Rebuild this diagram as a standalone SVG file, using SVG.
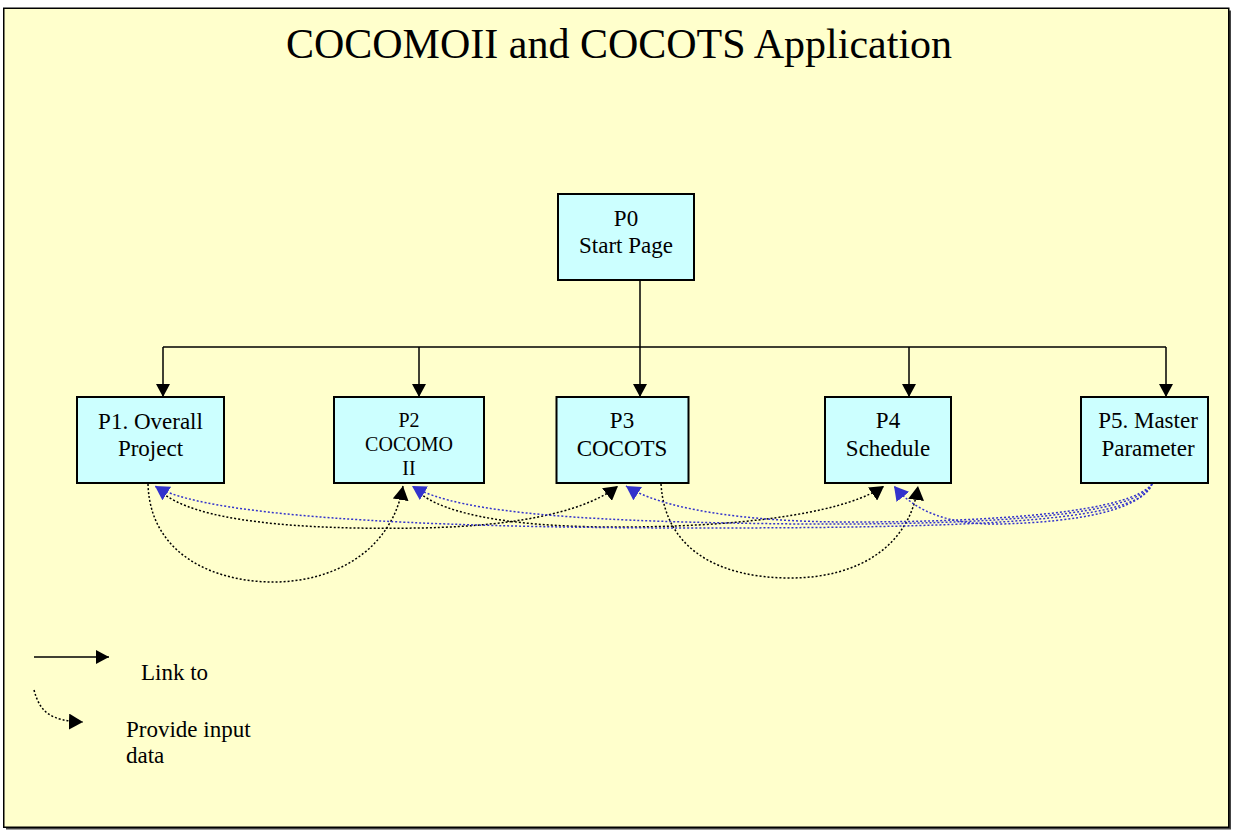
<svg xmlns="http://www.w3.org/2000/svg" width="1233" height="830" viewBox="0 0 1233 830">
<style>
.box{fill:#CCFFFF;stroke:#000;stroke-width:2}
.t{font-family:"Liberation Serif","Times New Roman",serif;font-size:23px;fill:#000;text-anchor:middle}
.t2{font-family:"Liberation Serif","Times New Roman",serif;font-size:20px;fill:#000;text-anchor:middle}
.lg{font-family:"Liberation Serif","Times New Roman",serif;font-size:23px;fill:#000}
.solid{fill:none;stroke:#000;stroke-width:1.5}
.dk{fill:none;stroke:#000;stroke-width:1.5;stroke-dasharray:2,2}
.db{fill:none;stroke:#3333CC;stroke-width:1.5;stroke-dasharray:2,2}
</style>
<defs>
<marker id="ah" markerUnits="userSpaceOnUse" markerWidth="14" markerHeight="14" refX="13" refY="7" orient="auto" viewBox="0 0 14 14">
<path d="M0,0 L13,7 L0,14 z" fill="#000"/>
</marker>
<marker id="ak" markerUnits="userSpaceOnUse" markerWidth="15" markerHeight="16" refX="14" refY="8" orient="auto" viewBox="0 0 15 16">
<path d="M0,0 L14,8 L0,16 z" fill="#000"/>
</marker>
<marker id="ab" markerUnits="userSpaceOnUse" markerWidth="15" markerHeight="16" refX="14" refY="8" orient="auto" viewBox="0 0 15 16">
<path d="M0,0 L14,8 L0,16 z" fill="#3333CC"/>
</marker>
</defs>
<rect x="6" y="10.5" width="1225" height="819" fill="#444"/>
<rect x="3.75" y="8.25" width="1225" height="819" fill="#FFFFCC" stroke="#000" stroke-width="1.5"/>
<text x="619" y="58" font-family="'Liberation Serif','Times New Roman',serif" font-size="42" text-anchor="middle" fill="#000">COCOMOII and COCOTS Application</text>

<g id="connectors">
<path class="solid" d="M640,280 L640,347"/>
<path class="solid" d="M163,347 L1166,347"/>
<path class="solid" d="M163,347 L163,397" marker-end="url(#ah)"/>
<path class="solid" d="M419,347 L419,397" marker-end="url(#ah)"/>
<path class="solid" d="M640,347 L640,397" marker-end="url(#ah)"/>
<path class="solid" d="M909,347 L909,397" marker-end="url(#ah)"/>
<path class="solid" d="M1166,347 L1166,397" marker-end="url(#ah)"/>

<path class="dk" d="M148,484 C150,555 215,582 273,582 C335,582 392,550 403,486" marker-end="url(#ak)"/>
<path class="dk" d="M160,491 C195,522 300,530 420,528 C530,526 590,508 618,486" marker-end="url(#ak)"/>
<path class="dk" d="M417,491 C445,516 520,528 630,527 C760,526 850,510 884,486" marker-end="url(#ak)"/>
<path class="dk" d="M661,484 C665,550 720,578 790,578 C860,578 910,545 918,486" marker-end="url(#ak)"/>

<path class="db" d="M1152,484 C1140,520 1000,528 700,528 C400,528 200,515 155,486" marker-end="url(#ab)"/>
<path class="db" d="M1152,484 C1135,515 1000,525 800,524 C600,522 460,515 412,486" marker-end="url(#ab)"/>
<path class="db" d="M1152,484 C1130,512 1000,522 850,522 C740,522 660,508 626,486" marker-end="url(#ab)"/>
<path class="db" d="M1152,484 C1140,510 1080,522 1000,524 C950,525 915,512 894,486" marker-end="url(#ab)"/>

<path class="solid" d="M34,657 L109,657" marker-end="url(#ah)"/>
<path class="dk" d="M34,690 C40,712 50,721 83,722" marker-end="url(#ak)"/>
</g>

<g id="P0">
<rect class="box" x="558" y="194" width="136" height="86"/>
<text class="t" x="626" y="226">P0</text>
<text class="t" x="626" y="253">Start Page</text>
</g>
<g id="P1">
<rect class="box" x="77" y="397" width="147" height="86"/>
<text class="t" x="150.5" y="429">P1. Overall</text>
<text class="t" x="150.5" y="456">Project</text>
</g>
<g id="P2">
<rect class="box" x="334" y="397" width="150" height="86"/>
<text class="t2" x="409" y="427">P2</text>
<text class="t2" x="409" y="451">COCOMO</text>
<text class="t2" x="409" y="475">II</text>
</g>
<g id="P3">
<rect class="box" x="556.5" y="397" width="132" height="86"/>
<text class="t" x="622" y="428">P3</text>
<text class="t" x="622" y="456">COCOTS</text>
</g>
<g id="P4">
<rect class="box" x="825" y="397" width="126" height="86"/>
<text class="t" x="888" y="428">P4</text>
<text class="t" x="888" y="456">Schedule</text>
</g>
<g id="P5">
<rect class="box" x="1081" y="397" width="127" height="86"/>
<text class="t" x="1148" y="428">P5. Master</text>
<text class="t" x="1148" y="456">Parameter</text>
</g>

<g id="legend">
<text class="lg" x="141" y="680">Link to</text>
<text class="lg" x="126" y="737">Provide input</text>
<text class="lg" x="126" y="763">data</text>
</g>
</svg>
